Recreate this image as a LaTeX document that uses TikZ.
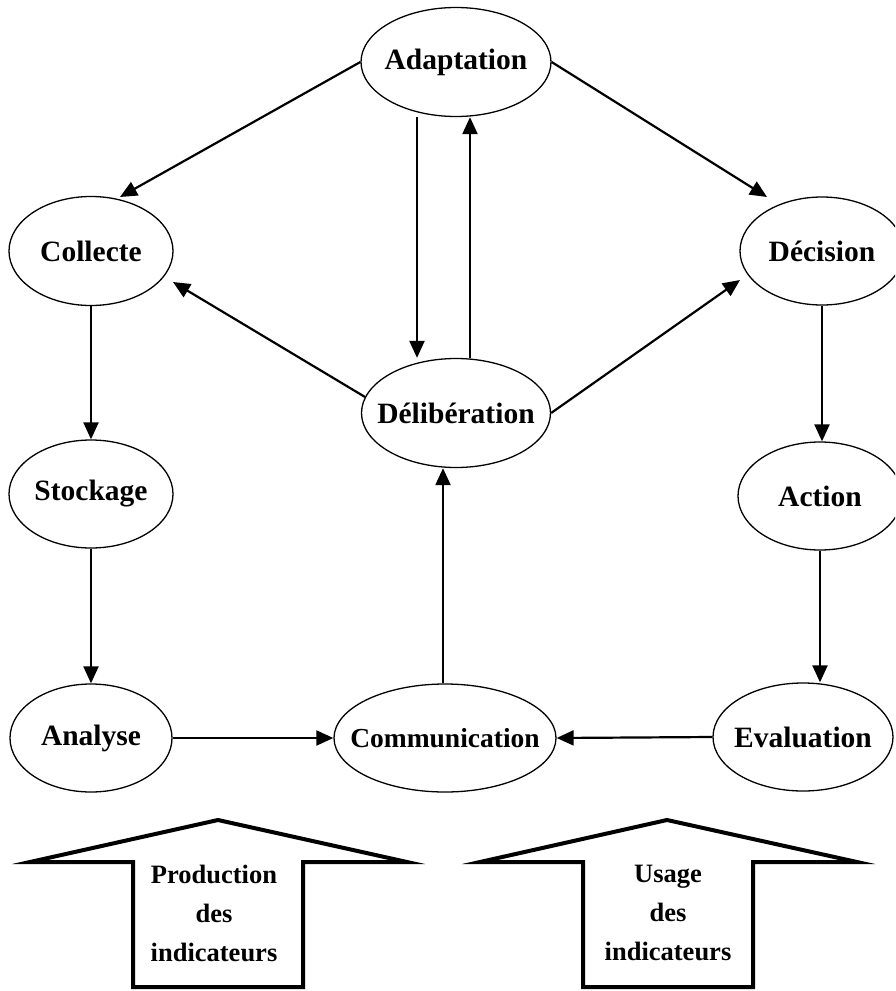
\documentclass[tikz,border=0pt]{standalone}
\usepackage{fontspec}
\setmainfont{Liberation Serif}
\usetikzlibrary{shapes.geometric,arrows.meta,calc}
\begin{document}
\begin{tikzpicture}[x=1pt,y=-1pt,
  ell/.style={ellipse,draw,line width=1.3pt,inner sep=0pt,inner xsep=-45pt,font=\fontsize{29.5}{34}\selectfont\bfseries},
  arr/.style={line width=2.2pt,-{Triangle[length=17pt,width=15pt]}},
  big/.style={draw,line width=4pt,miter limit=25,line join=miter},
  lab/.style={align=center,font=\fontsize{26.5}{39}\selectfont\bfseries}]
\clip (0,0) rectangle (895,991);
\fill[white] (0,0) rectangle (895,991);
% ellipses
\node[ell,minimum width=190pt,minimum height=109pt] (adapt) at (456,62) {Adaptation};
\node[ell,minimum width=164pt,minimum height=109pt] (coll) at (91,251) {Collecte};
\node[ell,minimum width=164pt,minimum height=108pt] (dec) at (822,251) {D\'ecision};
\node[ell,minimum width=189pt,minimum height=109pt] (delib) at (456,413) {D\'elib\'eration};
\node[ell,minimum width=164pt,minimum height=108pt] (stock) at (91,494) {Stockage};
\node[ell,minimum width=164pt,minimum height=108pt] (action) at (820,496) {Action};
\node[ell,minimum width=162pt,minimum height=108pt] (analyse) at (91,738) {Analyse};
\node[ell,minimum width=222pt,minimum height=108pt,inner xsep=-60pt,font=\fontsize{27.5}{32}\selectfont\bfseries] (comm) at (445,738) {Communication};
\node[ell,minimum width=180pt,minimum height=108pt] (eval) at (803,737) {Evaluation};
% connectors
\draw[arr] (adapt.west) -- ($(coll)+(29,-54)$);
\draw[arr] (adapt.east) -- ($(dec)+(-55,-54)$);
\coordinate (dn1) at ($(adapt.south)+(-39,0)$);
\coordinate (dn2) at ($(delib.north)+(-39,0)$);
\draw[arr] (dn1) -- (dn2);
\coordinate (up1) at ($(delib.north)+(14,0)$);
\coordinate (up2) at ($(adapt.south)+(14,0)$);
\draw[arr] (up1) -- (up2);
\draw[arr] (delib.170) -- ($(coll)+(82,31)$);
\draw[arr] (delib.east) -- ($(dec)+(-82,29)$);
\draw[arr] (coll.south) -- (stock.north);
\draw[arr] (stock.south) -- (analyse.north);
\draw[arr] (dec.south) -- (dec.south |- action.north);
\draw[arr] (action.south) -- (action.south |- eval.north);
\draw[arr] (analyse.east) -- (comm.west);
\draw[arr] (eval.west) -- (comm.east);
\coordinate (cu) at ($(comm.north)+(-2,0)$);
\draw[arr] (cu) -- (cu |- delib.south);
% block arrows
\draw[big] (218,820) -- (407,862) -- (303,862) -- (303,987) -- (133,987) -- (133,862) -- (30,862) -- cycle;
\draw[big] (667,820) -- (857,862) -- (753,862) -- (753,987) -- (583,987) -- (583,862) -- (480,862) -- cycle;
\node[lab] (prod) at (214,913) {Production\\des\\indicateurs};
\node[lab] (usage) at (668,913) {Usage\\des\\indicateurs};
\end{tikzpicture}
\end{document}
